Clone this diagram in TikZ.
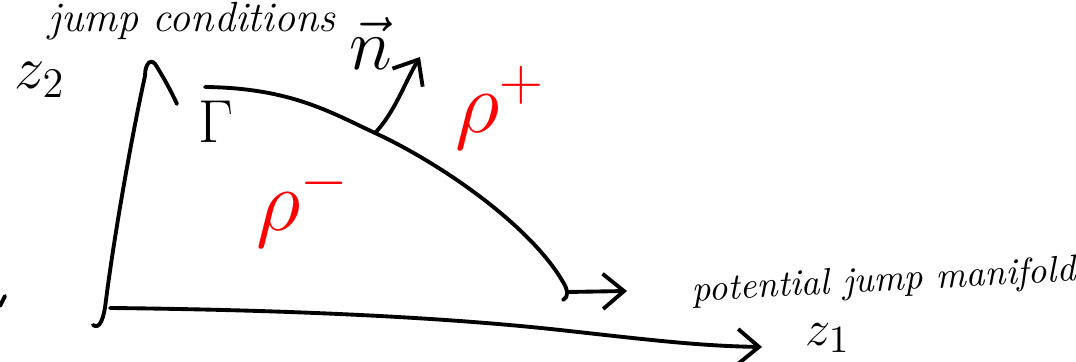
\documentclass[tikz,border=0pt]{standalone}
\usepackage{tikz}
\usetikzlibrary{arrows.meta,positioning}

\begin{document}
\begin{tikzpicture}[x=0.01cm,y=-0.01cm,line width=1.1pt,line cap=round,line join=round,
                    >={Straight Barb[length=6pt,width=10pt]},
                    hand/.style={font=\fontsize{12}{14}\selectfont\itshape,inner sep=0pt},
                    dens/.style={text=red,font=\fontsize{26}{28}\selectfont,inner sep=0pt}]
    \clip (0,0) rectangle (1076,362);

    % points of the sketch
    \coordinate (hook) at (93,325);
    \coordinate (capend) at (177,104);
    \coordinate (origin) at (110,308);
    \coordinate (z1tip) at (762,347);
    \coordinate (G0) at (205,87);
    \coordinate (foot) at (375,133);
    \coordinate (G1) at (563,282);
    \coordinate (hk) at (563,300);
    \coordinate (mstart) at (568,292);
    \coordinate (mtip) at (627,291);
    \coordinate (ntip) at (420,57);

    % axes
    \draw (hook) .. controls (100,330) and (104,318) .. (106,300)
          .. controls (115,230) and (133,130) .. (145,76)
          .. controls (145,62) and (152,57) .. (157,67)
          .. controls (165,80) and (172,93) .. (capend);
    \draw[->] (origin) .. controls (300,310) and (450,318) .. (560,330)
          .. controls (650,340) and (700,346) .. (z1tip);
    \draw (0,306) -- (5,296);

    % the interface Gamma and its normal
    \draw (G0) .. controls (290,88) and (330,112) .. (foot)
          .. controls (440,163) and (530,225) .. (G1)
          .. controls (568,290) and (569,297) .. (hk);
    \draw[->] (foot) .. controls (395,112) and (405,82) .. (ntip);
    \draw[->] (mstart) -- (mtip);

    % labels
    \node[hand] (top) at (192,21) {jump conditions};
    \node[font=\fontsize{17}{19}\selectfont] (z2) at (40,80) {$z_2$};
    \node[font=\fontsize{15}{17}\selectfont] (z1) at (828,338) {$z_1$};
    \node[font=\fontsize{16}{18}\selectfont] (gam) at (216,122) {$\Gamma$};
    \node[font=\fontsize{20}{22}\selectfont] (nvec) at (371,44) {$\vec{n}$};
    \node[dens] (rp) at (500,108) {$\rho^{+}$};
    \node[dens] (rm) at (303,205) {$\rho^{-}$};
    \node[hand,font=\fontsize{10.5}{12}\selectfont\itshape,rotate=3,anchor=west] (pjm) at (690,292) {potential jump manifold};
\end{tikzpicture}
\end{document}
